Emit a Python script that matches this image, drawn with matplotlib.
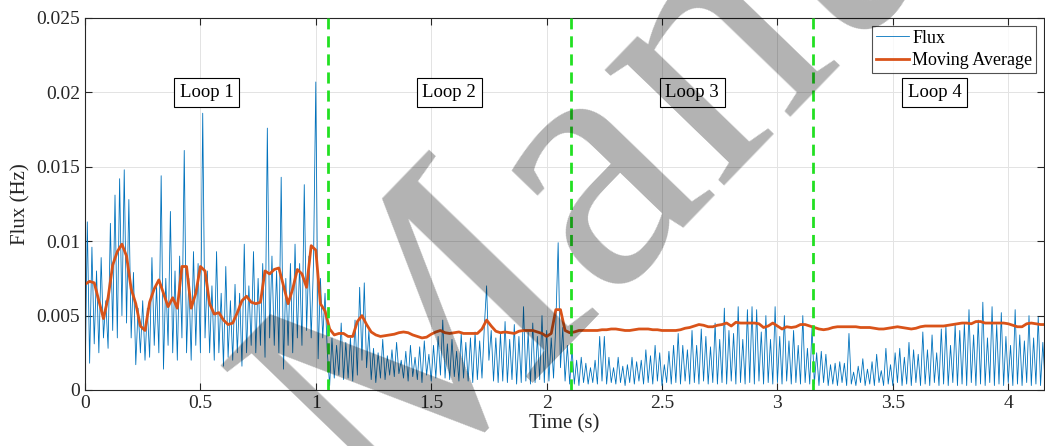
import numpy as np
import matplotlib
matplotlib.use("Agg")
from matplotlib import pyplot as plt
from matplotlib.ticker import FormatStrFormatter

# flux samples (x1e-3 Hz), one sample every 0.01 s, split by loop
flux_loop1 = [0.0, 11.3, 1.8, 9.6, 3.1, 8.0, 2.5, 8.9, 3.5, 6.0, 2.8, 11.2, 4.0, 13.1, 3.5, 14.2,
              5.0, 14.8, 4.5, 12.8, 3.5, 7.9, 1.7, 5.5, 2.5, 6.0, 2.0, 5.5, 2.2, 8.9, 3.0, 7.0,
              2.5, 14.4, 1.4, 7.5, 3.0, 12.0, 2.5, 8.0, 2.0, 9.0, 3.5, 16.1, 2.5, 7.5, 2.0, 9.3,
              3.0, 8.5, 2.5, 18.6, 3.5, 8.0, 2.5, 7.0, 2.0, 9.3, 2.5, 6.5, 1.6, 8.3, 2.2, 6.0,
              2.0, 7.1, 2.5, 6.5, 1.6, 9.8, 2.5, 7.0, 3.0, 9.3, 2.5, 7.5, 3.0, 8.5, 2.2, 17.6,
              3.5, 9.0, 3.0, 8.0, 2.5, 14.3, 1.4, 7.5, 3.0, 8.5, 2.5, 9.8, 3.5, 8.5, 3.0, 13.8,
              4.0, 9.0, 3.5, 8.5, 20.7, 2.1, 7.5, 3.5, 6.5, 2.5]
flux_loop2 = [0.3, 3.5, 0.8, 3.0, 1.0, 4.5, 0.7, 3.2, 0.8, 3.5, 0.6, 4.7, 1.0, 6.9, 2.0, 7.2,
              1.5, 4.0, 0.7, 2.8, 0.5, 2.5, 0.8, 3.4, 0.7, 2.3, 1.0, 2.7, 0.9, 3.2, 1.1, 2.0,
              0.8, 2.6, 0.6, 3.0, 0.9, 2.2, 0.7, 2.9, 0.5, 3.3, 1.0, 2.4, 0.6, 3.0, 0.8, 3.6,
              1.0, 4.7, 0.8, 3.1, 0.7, 3.4, 0.9, 2.6, 0.6, 3.8, 0.8, 3.2, 0.6, 3.5, 0.5, 3.9,
              0.7, 3.3, 0.8, 4.2, 7.0, 2.0, 4.0, 0.6, 3.5, 0.5, 3.8, 0.6, 4.6, 0.5, 3.4, 0.7,
              4.4, 0.4, 3.6, 0.5, 5.6, 0.6, 3.9, 0.4, 4.5, 0.5, 3.6, 0.7, 5.0, 0.5, 4.0, 0.6,
              3.5, 0.8, 4.5, 9.9, 1.5, 4.2, 0.6, 3.0, 0.4]
flux_loop3 = [2.8, 0.4, 2.0, 0.3, 2.2, 0.5, 1.8, 0.4, 1.5, 0.5, 2.0, 0.4, 3.6, 0.6, 3.6, 0.4,
              2.2, 0.5, 1.5, 0.4, 2.2, 0.5, 1.6, 0.3, 1.7, 0.5, 2.2, 0.4, 1.9, 0.6, 2.0, 0.4,
              2.7, 0.5, 2.3, 0.4, 3.0, 0.6, 2.5, 0.3, 1.7, 0.5, 2.6, 0.4, 3.0, 0.5, 3.8, 0.4,
              3.0, 0.6, 2.7, 0.4, 4.0, 0.5, 3.0, 0.4, 4.1, 0.6, 3.6, 0.4, 2.9, 0.5, 4.5, 0.4,
              3.4, 0.5, 5.5, 0.4, 4.0, 0.6, 3.8, 0.4, 5.6, 0.5, 3.4, 0.4, 5.4, 0.5, 5.6, 0.4,
              5.4, 0.6, 3.9, 0.4, 5.0, 0.5, 3.4, 0.4, 5.6, 0.5, 3.6, 0.4, 5.0, 0.6, 3.3, 0.4,
              4.0, 0.5, 3.0, 0.4, 5.0, 0.5, 2.8, 0.4, 4.2]
flux_loop4 = [0.4, 2.5, 0.3, 2.6, 0.5, 2.4, 0.3, 1.7, 0.4, 1.8, 0.3, 1.9, 0.5, 1.8, 0.3, 3.8,
              0.4, 1.2, 0.3, 1.6, 0.5, 2.1, 0.3, 1.4, 0.4, 1.9, 0.3, 2.4, 0.5, 1.3, 0.3, 2.8,
              0.4, 1.7, 0.3, 2.5, 0.5, 2.8, 0.3, 2.2, 0.4, 3.2, 0.3, 2.7, 0.5, 2.4, 0.3, 3.9,
              0.4, 2.7, 0.3, 3.7, 0.5, 2.5, 0.3, 4.1, 0.4, 4.3, 0.3, 3.0, 0.5, 4.4, 0.3, 4.0,
              0.4, 4.5, 0.3, 5.4, 0.5, 3.7, 0.3, 4.7, 0.4, 5.9, 0.3, 3.5, 0.5, 5.6, 0.3, 4.4,
              0.4, 5.2, 0.3, 3.6, 0.5, 3.0, 0.3, 5.4, 0.4, 3.7, 0.3, 3.3, 0.5, 5.0, 0.3, 3.5,
              0.4, 4.9, 0.3, 3.2, 0.4]
flux_dt = 0.01

# moving average (x1e-3 Hz), one value every 0.02 s
moving_avg = [7.1, 7.3, 7.2, 6.0, 4.8, 6.2, 8.4, 9.3, 9.8, 9.0, 6.8, 5.8, 4.3, 4.0, 5.9, 6.8,
              7.4, 6.5, 5.6, 6.2, 5.5, 8.3, 8.3, 5.5, 6.5, 8.3, 8.0, 5.8, 5.1, 5.2, 4.7, 4.4,
              4.5, 5.2, 6.0, 6.3, 5.9, 5.8, 5.9, 8.0, 7.8, 8.1, 8.2, 7.0, 5.8, 6.8, 8.1, 7.8,
              6.9, 9.7, 9.4, 5.8, 5.3, 4.1, 3.7, 3.8, 3.8, 3.6, 3.6, 4.6, 5.0, 4.4, 3.9, 3.7,
              3.6, 3.65, 3.7, 3.75, 3.85, 3.9, 3.85, 3.7, 3.6, 3.5, 3.55, 3.75, 3.9, 4.0, 3.85, 3.8,
              3.85, 3.9, 3.8, 3.8, 3.8, 3.8, 4.1, 4.7, 4.3, 3.95, 3.85, 3.9, 3.85, 3.8, 3.95, 4.0,
              4.0, 4.0, 3.9, 3.8, 3.6, 3.8, 5.4, 5.4, 4.0, 3.85, 3.9, 4.0, 4.0, 4.0, 4.0, 4.0,
              4.05, 4.05, 4.1, 4.1, 4.05, 4.0, 4.0, 4.05, 4.1, 4.1, 4.1, 4.05, 4.05, 4.0, 4.0, 4.0,
              4.0, 4.05, 4.15, 4.2, 4.3, 4.4, 4.35, 4.25, 4.25, 4.35, 4.4, 4.5, 4.3, 4.55, 4.5, 4.5,
              4.5, 4.5, 4.45, 4.2, 4.3, 4.5, 4.3, 4.1, 4.25, 4.2, 4.25, 4.4, 4.4, 4.3, 4.2, 4.1,
              4.05, 4.1, 4.2, 4.25, 4.25, 4.25, 4.25, 4.25, 4.2, 4.2, 4.2, 4.15, 4.1, 4.1, 4.15, 4.2,
              4.25, 4.2, 4.15, 4.1, 4.15, 4.25, 4.3, 4.3, 4.3, 4.3, 4.3, 4.35, 4.4, 4.45, 4.5, 4.5,
              4.45, 4.6, 4.6, 4.5, 4.5, 4.5, 4.5, 4.5, 4.45, 4.35, 4.25, 4.25, 4.45, 4.5, 4.45, 4.4,
              4.4]
ma_dt = 0.02

loop_length = 1.052
loop_names = ["Loop 1", "Loop 2", "Loop 3", "Loop 4"]
loop_label_y = 0.02

flux = np.array(flux_loop1 + flux_loop2 + flux_loop3 + flux_loop4) * 1e-3
t_flux = np.arange(len(flux)) * flux_dt
ma = np.array(moving_avg) * 1e-3
t_ma = np.arange(len(ma)) * ma_dt

plt.rcParams['font.family'] = ['Liberation Serif', 'DejaVu Serif']

fig = plt.figure(figsize=(10.45, 4.46), dpi=100)
ax = fig.add_axes([85 / 1045, 56 / 446, 959 / 1045, 372 / 446])

ax.plot(t_flux, flux, color='#0072BD', lw=0.6, label='Flux')
ax.plot(t_ma, ma, color='#D95319', lw=2.0, label='Moving Average')

for k in range(1, 4):
    ax.axvline(k * loop_length, color='#22E022', lw=2.0, ls=(0, (4, 2.5)), zorder=3)

for k, name in enumerate(loop_names):
    ax.text((k + 0.5) * loop_length, loop_label_y, name, ha='center', va='center', fontsize=13.5,
            bbox=dict(boxstyle='square,pad=0.3', fc='white', ec='black', lw=0.8), zorder=5)

ax.set_xlim(0, 4.155)
ax.set_ylim(0, 0.025)
ax.set_xticks(np.arange(0, 4.01, 0.5))
ax.set_yticks(np.arange(0, 0.0251, 0.005))
ax.xaxis.set_major_formatter(FormatStrFormatter('%g'))
ax.yaxis.set_major_formatter(FormatStrFormatter('%g'))
ax.tick_params(direction='in', top=True, right=True, labelsize=14, length=5, width=0.8,
               color='#262626', labelcolor='#262626')
ax.grid(True, color='#e3e3e3', lw=0.7)
ax.set_axisbelow(True)
for s in ax.spines.values():
    s.set_color('#262626')
    s.set_linewidth(0.8)

ax.set_xlabel('Time (s)', fontsize=15, labelpad=2, color='#262626')
ax.set_ylabel('Flux (Hz)', fontsize=15, labelpad=4, color='#262626')

leg = ax.legend(loc='upper right', fontsize=13, frameon=True, fancybox=False, edgecolor='#262626',
                borderpad=0.2, handlelength=1.8, handletextpad=0.2, labelspacing=0.3,
                borderaxespad=0.45)
leg.get_frame().set_linewidth(0.8)

# diagonal watermark
fig.text(388 / 1045, 1 - 408 / 446, 'Accepted Manuscript', fontsize=260, rotation=46,
         rotation_mode='anchor', ha='center', va='center', color='black', alpha=0.3, zorder=10)

fig.savefig('out.png', dpi=100)
